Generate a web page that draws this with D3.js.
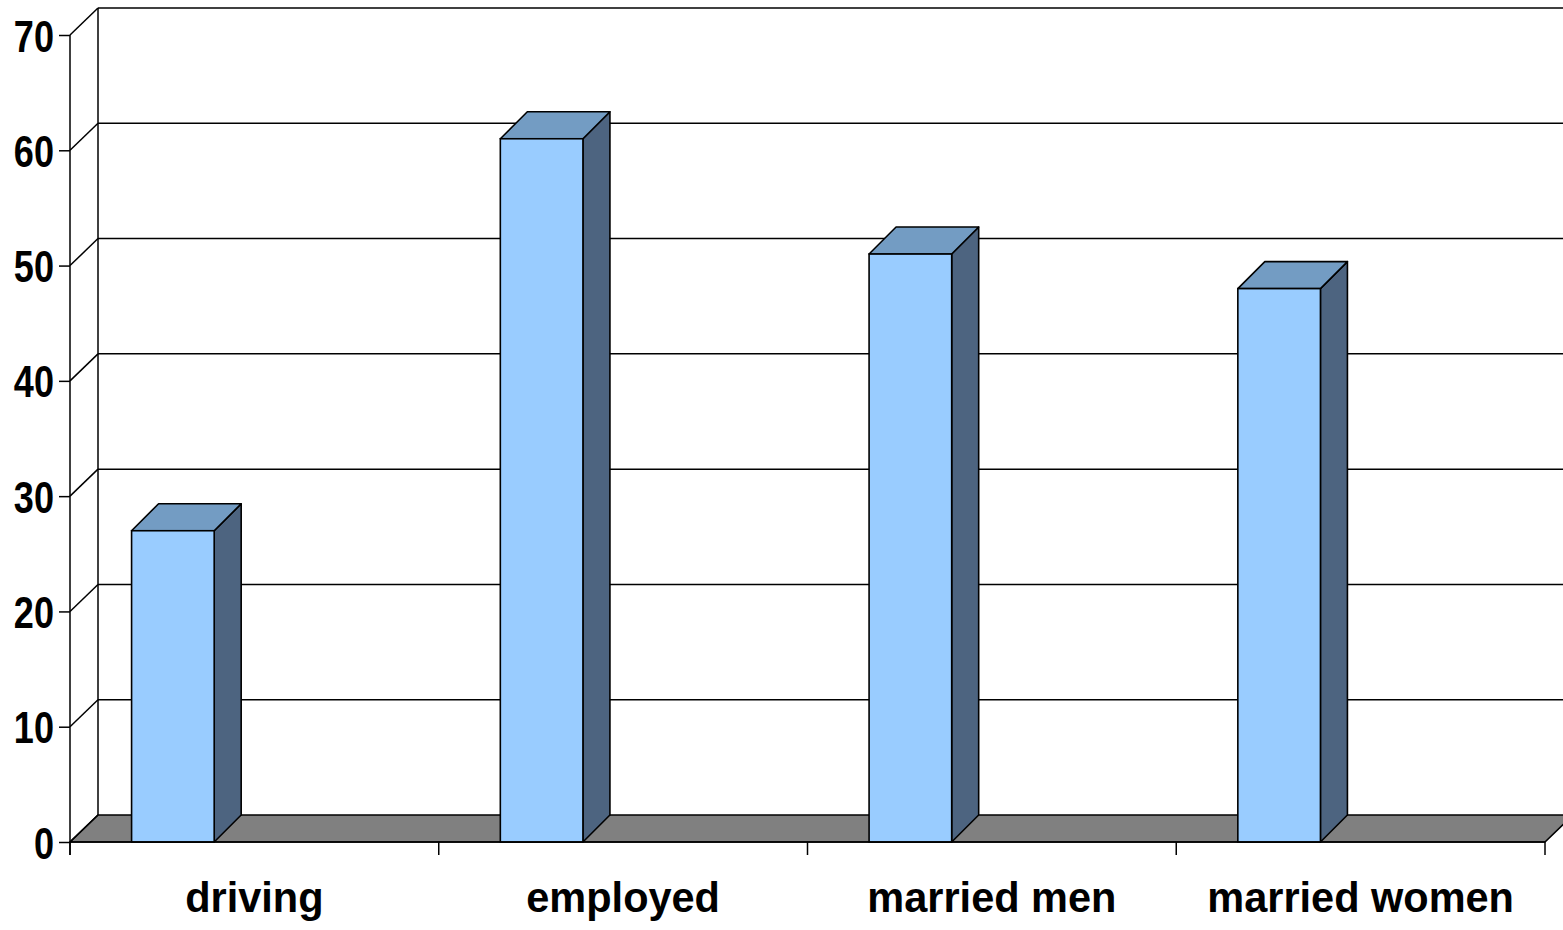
<!DOCTYPE html>
<html>
<head>
<meta charset="utf-8">
<script src="https://cdn.jsdelivr.net/npm/d3@7"></script>
<style>
  html, body { margin: 0; padding: 0; background: #fff; }
  svg { display: block; }
  text { font-family: "Liberation Sans", Arial, sans-serif; font-weight: bold; fill: #000; }
</style>
</head>
<body>
<svg id="chart" width="1563" height="930"></svg>
<script>
// Share of respondents (%) by category
const categories = ["driving", "employed", "married men", "married women"];
const values = [27, 61, 51, 48];
const yTicks = [0, 10, 20, 30, 40, 50, 60, 70];

const W = 1563, H = 930;
const svg = d3.select("#chart");

// Front plane extents and depth offset of the 3D box
const x0 = 70, x1 = 1545;
const depthX = 28, depthY = 27;

const y = d3.scaleLinear().domain([0, 70]).range([842, 35]);
const x = d3.scaleBand().domain(categories).range([x0, x1]).padding(0);
const bw = x.bandwidth();
const barOffset = bw * 0.167, barWidth = bw * 0.224;
const barDepthX = 27, barDepthY = 27;

svg.append("defs").append("clipPath").attr("id", "plotclip")
  .append("rect").attr("x", 0).attr("y", 0).attr("width", W).attr("height", H);

const g = svg.append("g").attr("clip-path", "url(#plotclip)");
const pts = arr => arr.map(p => p.join(",")).join(" ");

// Floor
const yBase = y(0);
g.append("polygon")
  .attr("points", pts([
    [x0, yBase], [x1, yBase], [x1 + depthX, yBase - depthY], [x0 + depthX, yBase - depthY]
  ]))
  .attr("fill", "#808080").attr("stroke", "#000").attr("stroke-width", 1.6);

// Back wall gridlines and left wall diagonals
yTicks.forEach(t => {
  const yy = y(t);
  if (t > 0) {
    g.append("line")
      .attr("x1", x0 + depthX).attr("x2", W + 5)
      .attr("y1", yy - depthY).attr("y2", yy - depthY)
      .attr("stroke", "#000").attr("stroke-width", 1.5);
  }
  g.append("line")
    .attr("x1", x0).attr("y1", yy)
    .attr("x2", x0 + depthX).attr("y2", yy - depthY)
    .attr("stroke", "#000").attr("stroke-width", 1.5);
});

// Back wall left edge
g.append("line")
  .attr("x1", x0 + depthX).attr("x2", x0 + depthX)
  .attr("y1", y(70) - depthY).attr("y2", y(0) - depthY)
  .attr("stroke", "#000").attr("stroke-width", 1.5);

// Bars: right side, top, then front face
const bars = g.selectAll("g.bar").data(categories.map((c, i) => ({ c, v: values[i] })))
  .enter().append("g").attr("class", "bar");

bars.each(function(d) {
  const sel = d3.select(this);
  const bx = x(d.c) + barOffset;
  const top = y(d.v);
  sel.append("polygon")
    .attr("points", pts([[bx + barWidth, top], [bx + barWidth + barDepthX, top - barDepthY],
      [bx + barWidth + barDepthX, yBase - barDepthY], [bx + barWidth, yBase]]))
    .attr("fill", "#4D6480").attr("stroke", "#000").attr("stroke-width", 1.6).attr("stroke-linejoin", "round");
  sel.append("polygon")
    .attr("points", pts([[bx, top], [bx + barDepthX, top - barDepthY],
      [bx + barWidth + barDepthX, top - barDepthY], [bx + barWidth, top]]))
    .attr("fill", "#739CC3").attr("stroke", "#000").attr("stroke-width", 1.6).attr("stroke-linejoin", "round");
  sel.append("rect")
    .attr("x", bx).attr("y", top).attr("width", barWidth).attr("height", yBase - top)
    .attr("fill", "#99CCFF").attr("stroke", "#000").attr("stroke-width", 1.6);
});

// Value axis
const yAxis = d3.axisLeft(y).tickValues(yTicks).tickSize(11).tickPadding(0).tickFormat(d3.format("d"));
const ya = svg.append("g").attr("transform", `translate(${x0},0)`).call(yAxis);
ya.select(".domain").attr("stroke", "#000").attr("stroke-width", 1.5).attr("d", `M0,${y(70)}V${yBase + 13}`);
ya.selectAll(".tick line").attr("stroke", "#000").attr("stroke-width", 1.5);
ya.selectAll(".tick text")
  .attr("x", 0).attr("dy", null)
  .attr("transform", "translate(-16,16) scale(0.82,1)")
  .attr("font-size", 44)
  .style("font-family", "'Liberation Sans', Arial, sans-serif").style("font-weight", "bold");

// Category axis
const xa = svg.append("g");
xa.append("line").attr("x1", x0).attr("x2", x1).attr("y1", yBase).attr("y2", yBase)
  .attr("stroke", "#000").attr("stroke-width", 1.6);
const bounds = categories.map(c => x(c)).concat([x1]);
xa.selectAll("line.tick").data(bounds).enter().append("line").attr("class", "tick")
  .attr("x1", d => d).attr("x2", d => d).attr("y1", yBase).attr("y2", yBase + 13)
  .attr("stroke", "#000").attr("stroke-width", 1.5);
xa.selectAll("text").data(categories).enter().append("text")
  .attr("transform", d => `translate(${x(d) + bw / 2},912) scale(0.965,1)`)
  .attr("text-anchor", "middle").attr("font-size", 43)
  .text(d => d);
</script>
</body>
</html>
